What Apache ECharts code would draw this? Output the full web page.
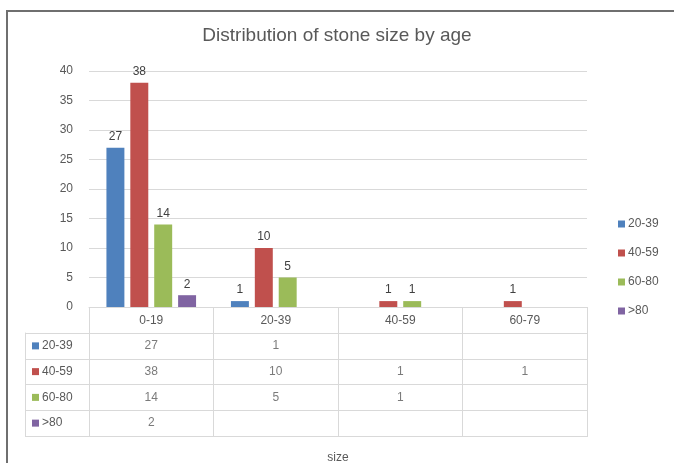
<!DOCTYPE html>
<html>
<head>
<meta charset="utf-8">
<script src="https://cdn.jsdelivr.net/npm/echarts@6/dist/echarts.min.js"></script>
<style>
html,body{margin:0;background:#fff;overflow:hidden;}
#main{width:674px;height:463px;}
</style>
</head>
<body>
<div id="main"></div>
<script>
// size categories (x axis) and age groups (series)
const categories = ['0-19', '20-39', '40-59', '60-79'];
const ageGroups = ['20-39', '40-59', '60-80', '>80'];
const colors = ['#4F81BD', '#C0504D', '#9BBB59', '#8064A2'];

const age20to39 = [27, 1, null, null];
const age40to59 = [38, 10, 1, 1];
const age60to80 = [14, 5, 1, null];
const ageOver80 = [2, null, null, null];

const yMin = 0, yMax = 40, yStep = 5;

const seriesValues = [age20to39, age40to59, age60to80, ageOver80];

const textColor = '#595959';
const lineColor = '#d9d9d9';
const font = 'Liberation Sans, Arial, sans-serif';

// cells of the data table, one per value
let cells = [];
seriesValues.forEach((vals, s) => {
  vals.forEach((v, c) => {
    if (v != null) cells.push([categories[c], ageGroups[s], v]);
  });
});

let rich = {t: {color: textColor, fontSize: 12, fontFamily: font, padding: [0, 0, 0, 3]}};
ageGroups.forEach((g, i) => {
  rich['k' + i] = {backgroundColor: colors[i], width: 7, height: 7};
});

let barSeries = ageGroups.map((g, i) => ({
  name: g,
  type: 'bar',
  xAxisIndex: 0,
  yAxisIndex: 0,
  data: seriesValues[i],
  itemStyle: {color: colors[i]},
  barGap: '33%',
  barCategoryGap: '28%',
  label: {show: true, position: 'top', color: '#404040', fontSize: 12, fontFamily: font}
}));

let option = {
  backgroundColor: '#fff',
  animation: false,
  textStyle: {fontFamily: font},
  // outer frame (top and left edges only)
  graphic: [{
    type: 'polyline',
    silent: true,
    shape: {points: [[7, 463], [7, 11], [674, 11]]},
    style: {stroke: '#6f6f6f', lineWidth: 2, fill: null}
  }],
  title: {
    text: 'Distribution of stone size by age',
    left: 'center',
    top: 21,
    textStyle: {fontSize: 19, fontWeight: 'normal', color: textColor, fontFamily: font}
  },
  legend: {
    data: ageGroups,
    orient: 'vertical',
    left: 613,
    top: 213,
    itemWidth: 7,
    itemHeight: 7,
    itemGap: 17,
    icon: 'rect',
    textStyle: {color: textColor, fontSize: 12, fontFamily: font, padding: [0, 0, 0, -2]}
  },
  grid: [
    {left: 89, right: 87, top: 71, bottom: 156, outerBoundsMode: 'none'},
    {left: 89, right: 87, top: 333, bottom: 27, outerBoundsMode: 'none'}
  ],
  xAxis: [
    {
      type: 'category',
      gridIndex: 0,
      data: categories,
      axisLine: {lineStyle: {color: lineColor}},
      axisTick: {show: true, length: 130, lineStyle: {color: lineColor}},
      axisLabel: {color: textColor, fontSize: 12, margin: 8},
      name: 'size',
      nameLocation: 'middle',
      nameGap: 145,
      nameTextStyle: {color: textColor, fontSize: 12}
    },
    {
      type: 'category',
      gridIndex: 1,
      data: categories,
      axisLine: {show: false},
      axisTick: {show: false},
      axisLabel: {show: false}
    }
  ],
  yAxis: [
    {
      type: 'value',
      gridIndex: 0,
      min: yMin,
      max: yMax,
      interval: yStep,
      axisLine: {show: false},
      axisTick: {show: false},
      splitLine: {lineStyle: {color: lineColor}},
      axisLabel: {color: textColor, fontSize: 12, margin: 16}
    },
    {
      type: 'category',
      gridIndex: 1,
      data: ageGroups,
      inverse: true,
      axisLine: {show: false},
      axisTick: {show: true, length: 64, lineStyle: {color: lineColor}},
      splitLine: {show: true, lineStyle: {color: lineColor}},
      axisLabel: {
        align: 'left',
        margin: 57,
        formatter: (v, i) => '{k' + i + '|}{t|' + v + '}',
        rich: rich
      }
    },
    {
      type: 'category',
      gridIndex: 1,
      data: ageGroups,
      inverse: true,
      position: 'left',
      offset: 64,
      axisLine: {show: true, lineStyle: {color: lineColor}},
      axisTick: {show: false},
      axisLabel: {show: false},
      splitLine: {show: false}
    }
  ],
  series: barSeries.concat([{
    name: 'table',
    type: 'scatter',
    xAxisIndex: 1,
    yAxisIndex: 1,
    silent: true,
    symbolSize: 1,
    itemStyle: {color: 'rgba(0,0,0,0)'},
    data: cells,
    label: {
      show: true,
      position: 'inside',
      formatter: p => p.value[2],
      color: textColor,
      fontSize: 12,
      fontFamily: font
    }
  }])
};

let chart = echarts.init(document.getElementById('main'));
chart.setOption(option);
</script>
</body>
</html>
